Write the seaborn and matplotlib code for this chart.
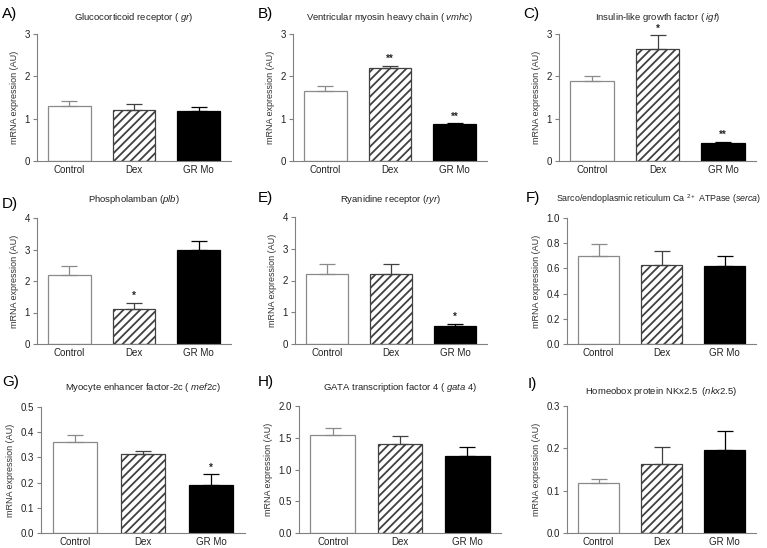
import numpy as np
import pandas as pd
import matplotlib
matplotlib.use("Agg")
import matplotlib.pyplot as plt
import seaborn as sns

sns.set_style("ticks")
plt.rcParams['font.family'] = ['Liberation Sans', 'DejaVu Sans']
plt.rcParams['mathtext.fontset'] = 'custom'
plt.rcParams['mathtext.rm'] = 'Liberation Sans'
plt.rcParams['mathtext.it'] = 'Liberation Sans:italic'
plt.rcParams['hatch.linewidth'] = 1.3

groups = ["Control", "Dex", "GR Mo"]

letters = ["A)", "B)", "C)", "D)", "E)", "F)", "G)", "H)", "I)"]
titles = [
    r"Glucocorticoid receptor ( $\it{gr}$)",
    r"Ventricular myosin heavy chain ( $\it{vmhc}$)",
    r"Insulin-like growth factor ( $\it{igf}$)",
    r"Phospholamban ($\it{plb}$)",
    r"Ryanidine receptor ($\it{ryr}$)",
    r"Sarco/endoplasmic reticulum Ca $^{2+}$ ATPase $\it{(serca)}$",
    r"Myocyte enhancer factor-2c ( $\it{mef2c}$)",
    r"GATA transcription factor 4 ( $\it{gata\ 4}$)",
    r"Homeobox protein NKx2.5  $\it{(nkx2.5)}$",
]

means_gr = [1.30, 1.20, 1.19]
sem_gr = [0.12, 0.14, 0.09]
means_vmhc = [1.66, 2.19, 0.87]
sem_vmhc = [0.12, 0.05, 0.02]
means_igf = [1.88, 2.65, 0.42]
sem_igf = [0.12, 0.32, 0.04]
means_plb = [2.20, 1.10, 3.00]
sem_plb = [0.28, 0.20, 0.28]
means_ryr = [2.22, 2.20, 0.58]
sem_ryr = [0.31, 0.33, 0.05]
means_serca = [0.70, 0.63, 0.62]
sem_serca = [0.09, 0.11, 0.075]
means_mef2c = [0.362, 0.314, 0.190]
sem_mef2c = [0.028, 0.013, 0.043]
means_gata4 = [1.55, 1.40, 1.22]
sem_gata4 = [0.11, 0.13, 0.13]
means_nkx = [0.118, 0.162, 0.195]
sem_nkx = [0.010, 0.040, 0.045]

stars = [
    ["", "", ""],
    ["", "**", "**"],
    ["", "*", "**"],
    ["", "*", ""],
    ["", "", "*"],
    ["", "", ""],
    ["", "", "*"],
    ["", "", ""],
    ["", "", ""],
]

ylims = [3, 3, 3, 4, 4, 1.0, 0.5, 2.0, 0.3]
yticks = [
    [0, 1, 2, 3], [0, 1, 2, 3], [0, 1, 2, 3],
    [0, 1, 2, 3, 4], [0, 1, 2, 3, 4], [0.0, 0.2, 0.4, 0.6, 0.8, 1.0],
    [0.0, 0.1, 0.2, 0.3, 0.4, 0.5], [0.0, 0.5, 1.0, 1.5, 2.0], [0.0, 0.1, 0.2, 0.3],
]
ytickfmt = ["{:.0f}"] * 5 + ["{:.1f}"] * 4

means = [means_gr, means_vmhc, means_igf, means_plb, means_ryr, means_serca,
         means_mef2c, means_gata4, means_nkx]
sems = [sem_gr, sem_vmhc, sem_igf, sem_plb, sem_ryr, sem_serca,
        sem_mef2c, sem_gata4, sem_nkx]

W, H = 767, 548
fig = plt.figure(figsize=(W / 100, H / 100), dpi=100)

# pixel boxes (left, right, top, bottom)
boxes = [
    (37, 231, 34, 161), (293, 487, 34, 161), (559, 756, 34, 161),
    (37, 231, 218, 344), (295, 487, 217, 344), (567, 756, 218, 344),
    (41, 245, 407, 533), (299, 501, 406, 533), (567, 756, 406, 533),
]
letter_pos = [(2, 14), (258, 14), (523, 14), (2, 204), (258, 198), (526, 198),
              (2, 382), (258, 382), (528, 384)]
title_y = [18, 18, 17, 200, 200, 199, 388, 388, 392]

axis_col = "#808080"
for i in range(9):
    l, r, t, b = boxes[i]
    ax = fig.add_axes([l / W, 1 - b / H, (r - l) / W, (b - t) / H])
    df = pd.DataFrame({"group": groups, "value": means[i]})
    sns.barplot(data=df, x="group", y="value", hue="group", legend=False,
                palette=["white", "white", "black"], width=0.66, ax=ax,
                errorbar=None, saturation=1)
    edges = ["#8a8a8a", "#404040", "black"]
    hatches = ["", "////", ""]
    for p, ec, h in zip(ax.patches, edges, hatches):
        p.set_edgecolor(ec)
        p.set_linewidth(0.9)
        p.set_hatch(h)
    xs = np.arange(3)
    for x, m, s, ec in zip(xs, means[i], sems[i], ["#8a8a8a", "#404040", "black"]):
        ax.errorbar([x], [m], yerr=[[0], [s]], fmt="none", ecolor=ec,
                    elinewidth=0.9, capsize=6, capthick=0.9, zorder=3)
    for x, m, s, st in zip(xs, means[i], sems[i], stars[i]):
        if st:
            ax.text(x, m + s + ylims[i] * 0.015, st, ha="center", va="bottom",
                    fontsize=7, fontweight="bold")
    ax.set_xlim(-0.5, 2.5)
    ax.set_ylim(0, ylims[i])
    ax.set_yticks(yticks[i])
    ax.set_yticklabels([ytickfmt[i].format(v) for v in yticks[i]])
    ax.set_xlabel("")
    ax.set_ylabel("mRNA expression (AU)", fontsize=6.5, color="#333333", labelpad=4)
    ax.tick_params(axis="both", labelsize=7, colors=axis_col, labelcolor="#222222",
                   length=3, width=0.8, pad=2)
    ax.tick_params(axis="x", length=0, pad=3)
    for sp in ["top", "right"]:
        ax.spines[sp].set_visible(False)
    for sp in ["left", "bottom"]:
        ax.spines[sp].set_color(axis_col)
        ax.spines[sp].set_linewidth(0.8)
    ax.set_facecolor("white")
    if i == 5:
        fig.text(556 / W, 1 - title_y[i] / H, titles[i], ha="left", va="center",
                 fontsize=6.4, color="#222222")
    else:
        cx = (l + r) / 2 / W
        fig.text(cx, 1 - title_y[i] / H, titles[i], ha="center", va="center",
                 fontsize=6.8, color="#222222")
    lx, ly = letter_pos[i]
    fig.text(lx / W, 1 - ly / H, letters[i], ha="left", va="center",
             fontsize=11, color="black")

fig.savefig("out.png", dpi=100, facecolor="white")
